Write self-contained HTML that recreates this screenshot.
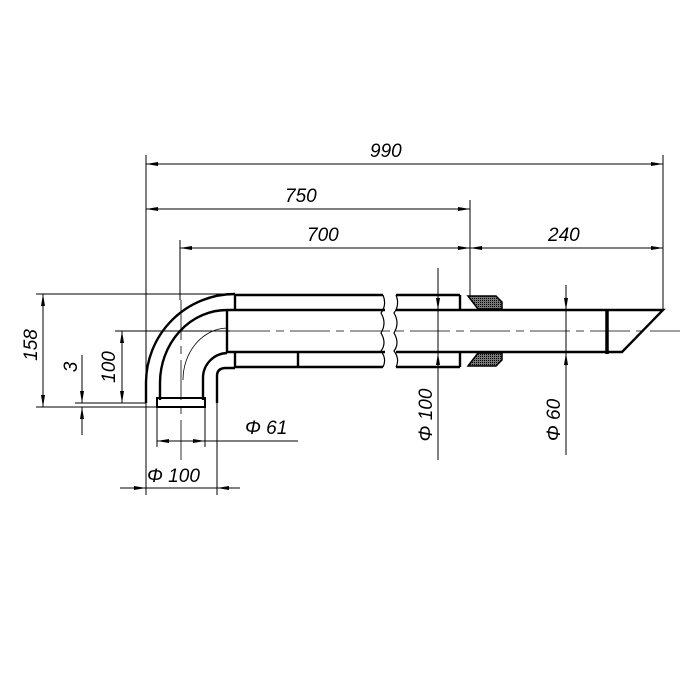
<!DOCTYPE html>
<html><head><meta charset="utf-8"><style>body{margin:0;background:#fff}svg{display:block}text{font-family:"Liberation Sans",sans-serif;font-style:italic;font-size:19px;fill:#000}</style></head><body>
<svg width="700" height="700" viewBox="0 0 700 700" xmlns="http://www.w3.org/2000/svg">
<defs>
<marker id="a" viewBox="0 0 12 4" refX="12" refY="2" markerWidth="12" markerHeight="4" orient="auto-start-reverse" markerUnits="userSpaceOnUse"><path d="M0,0 L12,2 L0,4 Z" fill="#000"/></marker>
<pattern id="h" width="2" height="2" patternUnits="userSpaceOnUse"><rect width="2" height="2" fill="#777"/><rect width="1" height="1" fill="#000"/></pattern>
</defs>
<g stroke="#000" fill="none" stroke-width="1">
<line x1="146" y1="155" x2="146" y2="495"/>
<line x1="470" y1="200" x2="470" y2="296"/>
<line x1="663" y1="155" x2="663" y2="310"/>
<line x1="180" y1="240" x2="180" y2="300"/>
<line x1="36" y1="294" x2="235" y2="294"/>
<line x1="36" y1="407" x2="160" y2="407"/>
<line x1="75" y1="403" x2="146" y2="403"/>
<line x1="115" y1="331" x2="230" y2="331"/>
<line x1="157" y1="407" x2="157" y2="447"/>
<line x1="205" y1="407" x2="205" y2="447"/>
<line x1="217" y1="403" x2="217" y2="495"/>
<line x1="146" y1="164" x2="663" y2="164" marker-start="url(#a)" marker-end="url(#a)"/>
<line x1="146" y1="209" x2="470" y2="209" marker-start="url(#a)" marker-end="url(#a)"/>
<line x1="180" y1="248" x2="470" y2="248" marker-start="url(#a)" marker-end="url(#a)"/>
<line x1="470" y1="248" x2="663" y2="248" marker-start="url(#a)" marker-end="url(#a)"/>
<line x1="43" y1="294" x2="43" y2="407" marker-start="url(#a)" marker-end="url(#a)"/>
<line x1="122" y1="331" x2="122" y2="403" marker-start="url(#a)" marker-end="url(#a)"/>
<line x1="82" y1="355" x2="82" y2="403" marker-end="url(#a)"/>
<line x1="82" y1="435" x2="82" y2="407" marker-end="url(#a)"/>
<line x1="181" y1="441" x2="157" y2="441" marker-end="url(#a)"/>
<line x1="181" y1="441" x2="205" y2="441" marker-end="url(#a)"/>
<line x1="205" y1="441" x2="298" y2="441"/>
<line x1="120" y1="488" x2="146" y2="488" marker-end="url(#a)"/>
<line x1="240" y1="488" x2="217" y2="488" marker-end="url(#a)"/>
<line x1="146" y1="488" x2="217" y2="488"/>
<line x1="438" y1="268" x2="438" y2="310" marker-end="url(#a)"/>
<line x1="438" y1="460" x2="438" y2="353" marker-end="url(#a)"/>
<line x1="438" y1="310" x2="438" y2="353"/>
<line x1="566" y1="285" x2="566" y2="310" marker-end="url(#a)"/>
<line x1="566" y1="455" x2="566" y2="353" marker-end="url(#a)"/>
<line x1="566" y1="310" x2="566" y2="353"/>
<line x1="230" y1="331" x2="680" y2="331" stroke-dasharray="40,6,8,6" stroke-width="0.8"/>
<line x1="181" y1="300" x2="181" y2="460" stroke-dasharray="40,6,8,6" stroke-width="0.8"/>
<path d="M183,380 A45,52 0 0 1 227,328" stroke-width="0.8"/>
</g>
<g stroke="#000" fill="none" stroke-width="2.4">
<path d="M146,403 L146,383 A89,89 0 0 1 235,294"/>
<path d="M160,400 L160,383 A67,73 0 0 1 227,310"/>
<path d="M203,400 L203,378 A25,25 0 0 1 227,353"/>
<path d="M217,403 L217,376 Q217,368 226,368 L235,368"/>
<line x1="227" y1="310" x2="227" y2="353"/>
<line x1="235" y1="294" x2="235" y2="310"/>
<line x1="235" y1="353" x2="235" y2="368"/>
<rect x="157" y="398" width="48" height="9" stroke-width="2"/>
<line x1="235" y1="295" x2="383" y2="295"/>
<line x1="227" y1="310" x2="385" y2="310"/>
<line x1="227" y1="352" x2="385" y2="352"/>
<line x1="235" y1="367" x2="383" y2="367"/>
<line x1="298" y1="352" x2="298" y2="367"/>
<line x1="396" y1="295" x2="460" y2="295"/>
<line x1="396" y1="310" x2="607" y2="310"/>
<line x1="396" y1="352" x2="607" y2="352"/>
<line x1="396" y1="367" x2="460" y2="367"/>
<line x1="460" y1="295" x2="460" y2="310"/>
<line x1="460" y1="352" x2="460" y2="367"/>
<line x1="607" y1="309" x2="607" y2="354" stroke-width="3.5"/>
<path d="M607,310 L663,310 L622,352 L607,352"/>
</g>
<g stroke="#000" stroke-width="1.2" fill="none">
<path d="M383,295 q4,10 -2,18 q6,10 0,20 q6,10 0,18 q6,8 2,16"/>
<path d="M396,295 q4,10 -2,18 q6,10 0,20 q6,10 0,18 q6,8 2,16"/>
</g>
<path d="M468,296 L496,296 L502,302 L502,309 L478,309 Z" fill="url(#h)" stroke="#000" stroke-width="1.5"/>
<path d="M468,366 L496,366 L502,360 L502,353 L478,353 Z" fill="url(#h)" stroke="#000" stroke-width="1.5"/>
<line x1="468" y1="296" x2="478" y2="309" stroke="#000" stroke-width="1"/>
<line x1="468" y1="366" x2="478" y2="353" stroke="#000" stroke-width="1"/>
<text x="370" y="157">990</text>
<text x="285" y="202">750</text>
<text x="307" y="241">700</text>
<text x="548" y="241">240</text>
<text x="245" y="434">Φ 61</text>
<text x="147" y="482">Φ 100</text>
<text transform="translate(37,345) rotate(-90)" text-anchor="middle">158</text>
<text transform="translate(115,367) rotate(-90)" text-anchor="middle">100</text>
<text transform="translate(77,367) rotate(-90)" text-anchor="middle">3</text>
<text transform="translate(432,415) rotate(-90)" text-anchor="middle">Φ 100</text>
<text transform="translate(560,420) rotate(-90)" text-anchor="middle">Φ 60</text>
</svg>
</body></html>
